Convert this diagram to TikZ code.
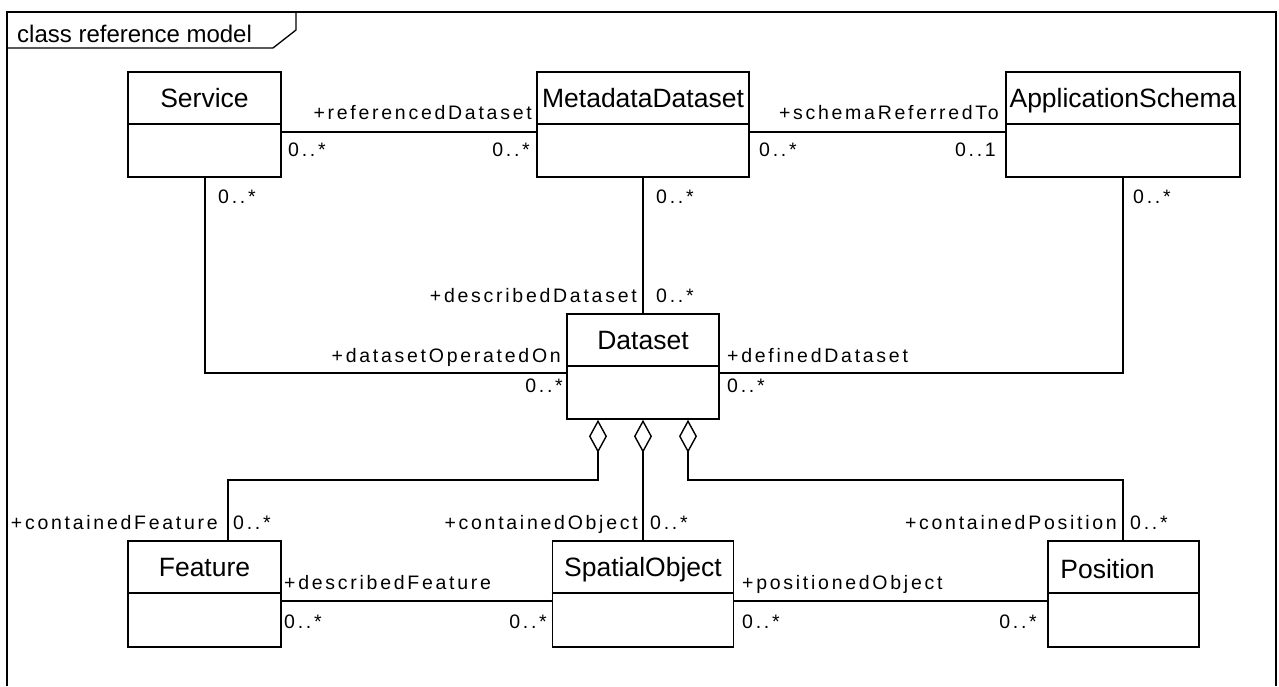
\documentclass[tikz,border=0pt]{standalone}
\usepackage{fontspec}
\setmainfont{Liberation Sans}
\newfontfamily\rolefont[LetterSpace=14]{Liberation Sans}
\usetikzlibrary{arrows.meta}
\tikzset{
  clsbox/.style={draw, line width=1.6pt, rectangle, inner sep=0pt},
  clsname/.style={font=\fontsize{26.5}{26.5}\selectfont, inner sep=0pt},
  role/.style={font=\rolefont\fontsize{19.5}{19.5}\selectfont, inner sep=0pt},
  conn/.style={line width=1.4pt},
  aggr/.style={conn, {Diamond[open, length=33pt, width=18pt, line width=1.4pt]}-},
}
\begin{document}
\begin{tikzpicture}[x=1pt, y=-1pt]
\useasboundingbox (0,0) rectangle (1279,686);
\fill[white] (0,0) rectangle (1279,686);
% frame
\draw[line width=1.3pt] (7,686) -- (7,12) -- (1276,12) -- (1276,686);
\draw[line width=1.3pt] (7,48) -- (273,48) -- (296,30) -- (296,12);
\node[font=\fontsize{24}{24}\selectfont, inner sep=0pt, anchor=base west] (title) at (17,42) {class reference model};

% classes
\newcommand{\umlclass}[5]{%
  \node[clsbox, minimum width=#3, minimum height=#4] (#1) at (#2) {};
  \draw[line width=1.6pt] ([yshift=-53pt]#1.north west) -- ([yshift=-53pt]#1.north east);
  \node[clsname, anchor=base] (#1-name) at ([yshift=-36pt]#1.north) {#5};
}
\umlclass{ser}{204.5,124.5}{153pt}{105pt}{Service}
\umlclass{md}{643,124.5}{212pt}{105pt}{MetadataDataset}
\umlclass{app}{1123,124.5}{234pt}{105pt}{ApplicationSchema}
\umlclass{ds}{643,366.5}{152pt}{105pt}{Dataset}
\umlclass{feat}{204.5,594}{153pt}{106pt}{Feature}
\umlclass{sp}{643,594}{181pt}{106pt}{SpatialObject}
\node[clsbox, minimum width=151pt, minimum height=106pt] (pos) at (1123.5,594) {};
\draw[line width=1.6pt] ([yshift=-53pt]pos.north west) -- ([yshift=-53pt]pos.north east);
\node[clsname, anchor=base west] (pos-name) at ([yshift=-38pt,xshift=13pt]pos.north west) {Position};

% associations
\draw[conn] ([yshift=-7.5pt]ser.east) -- ([yshift=-7.5pt]md.west);
\draw[conn] ([yshift=-7.5pt]md.east) -- ([yshift=-7.5pt]app.west);
\draw[conn] (md.south) -- (ds.north);
\draw[conn] ([xshift=0.5pt]ser.south) |- ([yshift=-6.5pt]ds.west);
\draw[conn] (app.south) |- ([yshift=-6.5pt]ds.east);
\draw[conn] ([yshift=-7pt]feat.east) -- ([yshift=-7pt]sp.west);
\draw[conn] ([yshift=-7pt]sp.east) -- ([yshift=-7pt]pos.west);

% aggregations
\draw[aggr] ([xshift=-45pt]ds.south) -- ([xshift=-45pt]ds.south |- 0,480) -| ([xshift=23.5pt]feat.north);
\draw[aggr] (ds.south) -- (sp.north);
\draw[aggr] ([xshift=45pt]ds.south) -- ([xshift=45pt]ds.south |- 0,480) -| ([xshift=-0.5pt]pos.north);

% role names and multiplicities
\node[role, anchor=base east] (r1) at (532,119) {+referencedDataset};
\node[role, anchor=base west] (m1) at (288,156) {0..*};
\node[role, anchor=base east] (m2) at (530,156) {0..*};
\node[role, anchor=base east] (r2) at (999,119) {+schemaReferredTo};
\node[role, anchor=base west] (m3) at (759,156) {0..*};
\node[role, anchor=base east] (m4) at (996,156) {0..1};
\node[role, anchor=base west] (m5) at (218,203) {0..*};
\node[role, anchor=base west] (m6) at (656,203) {0..*};
\node[role, anchor=base west] (m7) at (1133,203) {0..*};
\node[role, anchor=base east] (r3) at (637,302) {+describedDataset};
\node[role, anchor=base west] (m8) at (656,302) {0..*};
\node[role, anchor=base east] (r4) at (561,362) {+datasetOperatedOn};
\node[role, anchor=base east] (m9) at (563,392) {0..*};
\node[role, anchor=base west] (r5) at (727,362) {+definedDataset};
\node[role, anchor=base west] (m10) at (727,392) {0..*};
\node[role, anchor=base east] (r6) at (218,529) {+containedFeature};
\node[role, anchor=base west] (m11) at (233,529) {0..*};
\node[role, anchor=base east] (r7) at (638,529) {+containedObject};
\node[role, anchor=base west] (m12) at (650,529) {0..*};
\node[role, anchor=base east] (r8) at (1117,529) {+containedPosition};
\node[role, anchor=base west] (m13) at (1130,529) {0..*};
\node[role, anchor=base west] (r9) at (284,589) {+describedFeature};
\node[role, anchor=base west] (m14) at (284,628) {0..*};
\node[role, anchor=base east] (m15) at (547,628) {0..*};
\node[role, anchor=base west] (r10) at (742,589) {+positionedObject};
\node[role, anchor=base west] (m16) at (742,628) {0..*};
\node[role, anchor=base east] (m17) at (1037,628) {0..*};
\end{tikzpicture}
\end{document}
